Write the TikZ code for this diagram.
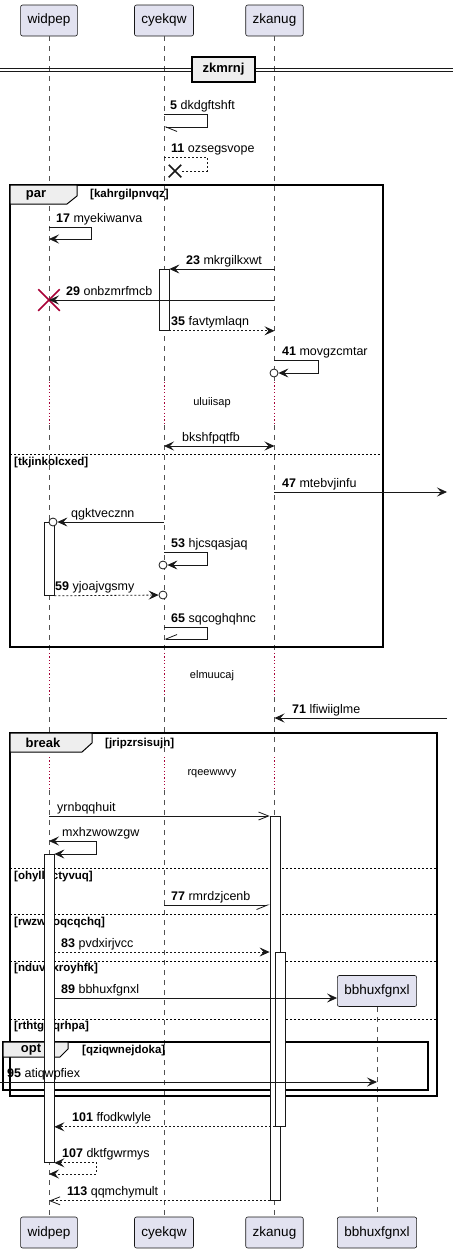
\documentclass[tikz,border=0pt]{standalone}
\usepackage{fontspec}
\setmainfont{Liberation Sans}
\usetikzlibrary{arrows.meta,positioning,shapes.misc}

\definecolor{partfill}{HTML}{E2E2F0}
\definecolor{tabfill}{HTML}{EEEEEE}
\definecolor{delayred}{HTML}{A80036}
\definecolor{linecol}{HTML}{181818}

\tikzset{
  >={Stealth[length=10pt,width=9pt,inset=4pt]},
  participant/.style={draw=linecol, fill=partfill, rounded corners=2pt, minimum height=31pt, inner xsep=7pt, line width=0.6pt, font=\fontsize{13.5}{16}\selectfont},
  lifeline/.style={draw=linecol!75, line width=0.6pt, dash pattern=on 5pt off 5pt},
  delayline/.style={draw=delayred, line width=0.8pt, dash pattern=on 1.2pt off 2.2pt},
  actbar/.style={draw=linecol, fill=white, line width=0.8pt, minimum width=10pt, inner sep=0pt, anchor=north},
  plain/.style={draw=linecol, line width=0.8pt},
  msg/.style={plain, ->},
  ret/.style={msg, dash pattern=on 2pt off 2pt},
  openhead/.style={-{Straight Barb[length=10pt,width=8pt]}},
  halfdown/.style={-{Straight Barb[length=11pt,width=9pt,left]}},
  halfup/.style={-{Straight Barb[length=11pt,width=9pt,right]}},
  msglabel/.style={anchor=base west, inner sep=0pt, font=\fontsize{12.5}{15}\selectfont},
  delaytext/.style={inner sep=0pt, font=\fontsize{11}{13}\selectfont},
  endcirc/.style={circle, draw=linecol, fill=white, minimum size=8pt, inner sep=0pt, line width=0.8pt},
  destroy/.style={cross out, draw=delayred, line width=1.5pt, minimum size=20pt, inner sep=0pt},
  frame/.style={draw=black, line width=1.5pt},
  tab/.style={draw=black, line width=1pt, fill=tabfill},
  tabtext/.style={inner sep=0pt, font=\bfseries\fontsize{13}{15}\selectfont},
  guard/.style={anchor=west, inner sep=0pt, font=\bfseries\fontsize{11.5}{14}\selectfont},
  sep/.style={draw=black, line width=0.8pt, dash pattern=on 2pt off 2pt},
  divider/.style={draw=black, fill=tabfill, line width=1.5pt, minimum width=63pt, minimum height=25pt, inner sep=0pt, font=\bfseries\fontsize{13}{15}\selectfont},
}

\begin{document}
\begin{tikzpicture}[x=1pt, y=-1pt]
\useasboundingbox (0,0) rectangle (453,1253);

% participants
\node[participant] (widpep) at (49,20.5) {widpep};
\node[participant] (cyekqw) at (164,20.5) {cyekqw};
\node[participant] (zkanug) at (274.5,20.5) {zkanug};
\node[participant] (widpep-end) at (49,1232.5) {widpep};
\node[participant] (cyekqw-end) at (164,1232.5) {cyekqw};
\node[participant] (zkanug-end) at (274.5,1232.5) {zkanug};
\node[participant] (bbhuxfgnxl) at (377,991) {bbhuxfgnxl};
\node[participant] (bbhuxfgnxl-end) at (377,1232.5) {bbhuxfgnxl};

% lifelines, with the three delays
\foreach \p in {widpep,cyekqw,zkanug}{
  \draw[lifeline] (\p.south) -- (\p |- 0,382) (\p |- 0,425) -- (\p |- 0,653)
    (\p |- 0,697) -- (\p |- 0,757) (\p |- 0,790) -- (\p-end.north);
  \draw[delayline] (\p |- 0,382) -- (\p |- 0,425) (\p |- 0,653) -- (\p |- 0,697)
    (\p |- 0,757) -- (\p |- 0,790);
}
\draw[lifeline] (bbhuxfgnxl.south) -- (bbhuxfgnxl-end.north);

% divider
\draw[linecol, line width=1pt] (0,68) -- (453,68) (0,71.5) -- (453,71.5);
\node[divider] (zkmrnj) at (223.5,69.5) {zkmrnj};

% par frame
\draw[frame] (10,185) rectangle (383,647);
\draw[tab] (10,185) -- (77,185) -- (77,196) -- (67,204) -- (10,204) -- cycle;
\node[tabtext] (par) at (36,195) {par};
\node[guard] (g-par) at (90,195) {[kahrgilpnvqz]};
\draw[sep] (10,454) -- (383,454);
\node[guard] (g-else1) at (14,463) {[tkjinkolcxed]};

% break frame
\draw[frame] (10,733) rectangle (437,1096);
\draw[tab] (10,733) -- (92,733) -- (92,743) -- (82,752) -- (10,752) -- cycle;
\node[tabtext] (break) at (43,743) {break};
\node[guard] (g-break) at (105,744) {[jripzrsisujn]};
\draw[sep] (10,868) -- (437,868);
\node[guard] (g-else2) at (14,877) {[ohyllpctyvuq]};
\draw[sep] (10,914) -- (437,914);
\node[guard] (g-else3) at (14,923) {[rwzwdoqcqchq]};
\draw[sep] (10,961) -- (437,961);
\node[guard] (g-else4) at (14,969) {[nduvgxroyhfk]};
\draw[sep] (10,1019) -- (437,1019);
\node[guard] (g-else5) at (14,1027) {[rthtgzlqrhpa]};

% opt frame
\draw[frame] (3,1042) rectangle (428,1090);
\draw[tab] (3,1042) -- (68,1042) -- (68,1049) -- (60,1057) -- (3,1057) -- cycle;
\node[tabtext] (opt) at (31,1050) {opt};
\node[guard] (g-opt) at (82,1051) {[qziqwnejdoka]};

% activations
\node[actbar, minimum height=61pt] (act1) at (164,269) {};
\node[actbar, minimum height=73pt] (act2) at (49,522) {};
\node[actbar, minimum height=384pt] (act3) at (275,816) {};
\node[actbar, minimum height=308pt] (act4) at (49,854) {};
\node[actbar, minimum height=174pt] (act5) at (280,952) {};

% messages
\coordinate (m5) at (164,114);
\draw[plain, halfdown] (m5) -- ++(43,0) -- ++(0,13) -- ++(-43,0);
\node[msglabel] (l5) at (170,109) {\textbf{5} dkdgftshft};

\coordinate (m11) at (164,157);
\node[destroy, draw=linecol, minimum size=11pt] (x11) at (175,171) {};
\draw[ret, -] (m11) -- ++(43,0) |- (x11);
\node[msglabel] (l11) at (171,152) {\textbf{11} ozsegsvope};

\coordinate (m17) at (49,227);
\draw[msg] (m17) -- ++(42,0) -- ++(0,12) -- ++(-42,0);
\node[msglabel] (l17) at (56,222) {\textbf{17} myekiwanva};

\draw[msg] (zkanug |- act1.north) -- (act1.north east);
\node[msglabel] (l23) at (186,264) {\textbf{23} mkrgilkxwt};

\coordinate (m29) at (274,300);
\node[destroy] (x29) at (49,300) {};
\draw[msg] (m29) -- (x29.center);
\node[msglabel] (l29) at (66,295) {\textbf{29} onbzmrfmcb};

\draw[ret] (act1.south east) -- (zkanug |- act1.south);
\node[msglabel] (l35) at (171,325) {\textbf{35} favtymlaqn};

\coordinate (m41) at (274,360);
\node[endcirc] (c41) at (274,373) {};
\draw[msg] (m41) -- ++(44,0) |- (c41);
\node[msglabel] (l41) at (282,355) {\textbf{41} movgzcmtar};

\node[delaytext] (d1) at (212,403) {uluiisap};

\coordinate (bk) at (164,446);
\draw[plain, <->] (bk) -- (zkanug |- bk);
\node[msglabel] (lbk) at (182,441) {bkshfpqtfb};

\coordinate (m47) at (274,492);
\coordinate (m47-out) at (447,492);
\draw[msg] (m47) -- (m47-out);
\node[msglabel] (l47) at (282,487) {\textbf{47} mtebvjinfu};

\node[endcirc] (cq) at (53,522) {};
\draw[msg] (cyekqw |- cq) -- (cq);
\node[msglabel] (lq) at (71,517) {qgktvecznn};

\coordinate (m53) at (164,552);
\node[endcirc] (c53) at (163,565) {};
\draw[msg] (m53) -- ++(43,0) |- (c53);
\node[msglabel] (l53) at (171,547) {\textbf{53} hjcsqasjaq};

\node[endcirc] (c59) at (163,595) {};
\draw[ret] (act2.south east) -- (c59);
\node[msglabel] (l59) at (55,590) {\textbf{59} yjoajvgsmy};

\coordinate (m65) at (164,627);
\draw[plain, halfup] (m65) -- ++(43,0) -- ++(0,12) -- ++(-43,0);
\node[msglabel] (l65) at (171,622) {\textbf{65} sqcoghqhnc};

\node[delaytext] (d2) at (212,676) {elmuucaj};

\coordinate (m71) at (447,718);
\draw[msg] (m71) -- (zkanug |- m71);
\node[msglabel] (l71) at (292,713) {\textbf{71} lfiwiiglme};

\node[delaytext] (d3) at (212,774) {rqeewwvy};

\draw[plain, openhead] (widpep |- act3.north) -- (act3.north west);
\node[msglabel] (ly) at (57,811) {yrnbqqhuit};

\coordinate (mx) at (49,841);
\draw[plain, <->] (mx) -- ++(47,0) |- (act4.north east);
\node[msglabel] (lmx) at (62,836) {mxhzwowzgw};

\coordinate (m77) at (164,905);
\draw[plain, halfup] (m77) -- (act3.west |- m77);
\node[msglabel] (l77) at (171,900) {\textbf{77} rmrdzjcenb};

\draw[ret] (act4.east |- act5.north) -- (act3.west |- act5.north);
\node[msglabel] (l83) at (61,947) {\textbf{83} pvdxirjvcc};

\coordinate (m89) at (54,998);
\draw[msg] (m89) -- (m89 -| bbhuxfgnxl.west);
\node[msglabel] (l89) at (61,993) {\textbf{89} bbhuxfgnxl};

\coordinate (m95) at (0,1082);
\draw[msg] (m95) -- (bbhuxfgnxl |- m95);
\node[msglabel] (l95) at (7,1077) {\textbf{95} atiqwpfiex};

\draw[ret] (act5.south west) -- (act4.east |- act5.south);
\node[msglabel] (l101) at (72,1121) {\textbf{101} ffodkwlyle};

\coordinate (m107) at (49,1174);
\draw[ret, <->] (act4.south east) -- ++(42,0) |- (m107);
\node[msglabel] (l107) at (62,1157) {\textbf{107} dktfgwrmys};

\draw[ret, openhead] (act3.south west) -- (widpep |- act3.south);
\node[msglabel] (l113) at (67,1195) {\textbf{113} qqmchymult};
\end{tikzpicture}
\end{document}
